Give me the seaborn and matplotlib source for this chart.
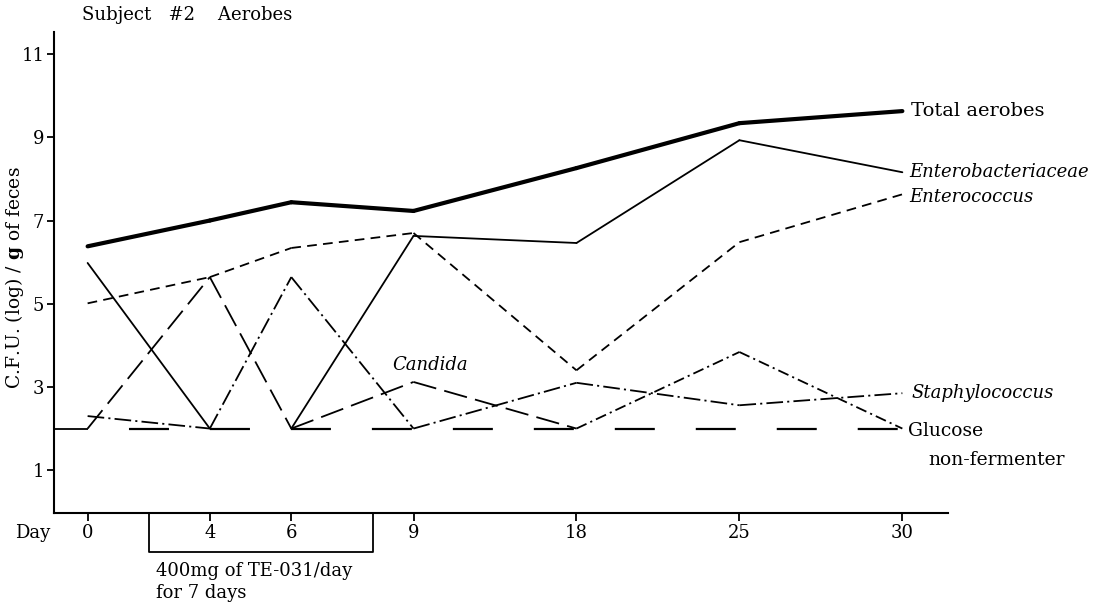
import matplotlib
matplotlib.use("Agg")
import matplotlib.pyplot as plt
import seaborn as sns
import numpy as np
import pandas as pd

# sampling days and their (non-linear) slot on the printed axis
days = [0, 4, 6, 9, 18, 25, 30]
day_slots = [0, 3, 5, 8, 12, 16, 20]

detection_limit = 2.0
treatment_days = (2, 8)

total_aerobes = [6.38, 7.0, 7.44, 7.23, 8.26, 9.34, 9.63]
enterobacteriaceae = [5.98, 2.0, 2.0, 6.63, 6.46, 8.93, 8.16]
enterococcus = [5.01, 5.64, 6.34, 6.70, 3.40, 6.48, 7.63]
candida = [2.0, 5.64, 2.0, 3.12, 2.0, 2.0, 2.0]
staphylococcus = [2.30, 2.0, 5.64, 2.0, 3.10, 2.56, 2.85]
glucose_nf = [2.0, 2.0, 2.0, 2.0, 2.0, 3.84, 2.0]

series = {
    "Total aerobes": total_aerobes,
    "Enterobacteriaceae": enterobacteriaceae,
    "Enterococcus": enterococcus,
    "Candida": candida,
    "Staphylococcus": staphylococcus,
    "Glucose non-fermenter": glucose_nf,
}

sns.set_style("ticks")
plt.rcParams["font.family"] = ["DejaVu Serif"]
plt.rcParams["mathtext.fontset"] = "dejavuserif"
plt.rcParams["lines.scale_dashes"] = False
plt.rcParams["font.size"] = 13
for key in ("text.color", "axes.labelcolor", "axes.edgecolor",
            "xtick.color", "ytick.color"):
    plt.rcParams[key] = "black"

# segments where both ends sit at the detection limit are left to the dashed baseline
rows = []
for name, vals in series.items():
    for i in range(len(days) - 1):
        if vals[i] <= detection_limit and vals[i + 1] <= detection_limit:
            continue
        for j in (i, i + 1):
            rows.append({"organism": name, "seg": i, "day": days[j], "cfu": vals[j]})
df = pd.DataFrame(rows)

# piecewise-linear day axis as printed
ext_days = [-10] + days + [60]
ext_slots = [-7.5] + day_slots + [44]


def fwd(d):
    return np.interp(d, ext_days, ext_slots)


def inv(s):
    return np.interp(s, ext_slots, ext_days)


fig = plt.figure(figsize=(11, 6.08), dpi=100)
ax = fig.add_axes([0.0491, 0.1562, 0.8127, 0.7911])
ax.set_xscale("function", functions=(fwd, inv))

palette = {n: "black" for n in series}
sizes = {n: 1.3 for n in series}
sizes["Total aerobes"] = 3.0
dashes = {
    "Total aerobes": "",
    "Enterobacteriaceae": "",
    "Enterococcus": (7, 4.5),
    "Candida": (17, 6),
    "Staphylococcus": (12, 3, 1.5, 3),
    "Glucose non-fermenter": (8, 3, 1.5, 3),
}

sns.lineplot(data=df, x="day", y="cfu", hue="organism", size="organism",
             style="organism", units="seg", estimator=None, palette=palette,
             sizes=sizes, dashes=dashes, legend=False, ax=ax)

ax.set_xlim(-1.1, 31.4)
ax.set_ylim(-0.03, 11.53)

# detection-limit baseline
ax.hlines(detection_limit, days[0], days[-1], colors="black", linewidth=1.6,
          linestyles=[(28.8, (28.8, 29.5))])
ax.hlines(detection_limit, ax.get_xlim()[0], days[0], colors="black", linewidth=1.3)

ax.set_xticks(days)
ax.set_xticklabels([str(d) for d in days])
ax.set_yticks([1, 3, 5, 7, 9, 11])
ax.tick_params(axis="x", direction="out", length=6, width=1.3, pad=2, labelsize=13)
ax.tick_params(axis="y", direction="out", length=5, width=1.3, pad=2, labelsize=13)
ax.minorticks_off()
sns.despine(ax=ax)
for s in ("left", "bottom"):
    ax.spines[s].set_linewidth(1.5)
ax.set_xlabel("")
ax.set_ylabel(r"C.F.U. (log) / $\mathbf{g}$ of feces", fontsize=13.5, va="center")
ax.yaxis.set_label_coords(-0.0447, 0.489)

ax.text(-0.0436, -0.0416, "Day", transform=ax.transAxes, ha="left", va="center",
        fontsize=13)
ax.text(0.031, 1.035, "Subject   #2    Aerobes", transform=ax.transAxes,
        ha="left", va="center", fontsize=13)

# end labels
def label(name, text, dx, dy, style="normal", size=13):
    vals = series[name]
    ax.annotate(text, xy=(days[-1], vals[-1]), xytext=(dx, dy),
                textcoords="offset points", ha="left", va="center",
                fontsize=size, style=style, annotation_clip=False)


label("Total aerobes", "Total aerobes", 6.5, 0, size=14)
label("Enterobacteriaceae", "Enterobacteriaceae", 5, 0, "italic")
label("Enterococcus", "Enterococcus", 5, -2, "italic")
label("Staphylococcus", "Staphylococcus", 6.5, 0, "italic")
label("Glucose non-fermenter", "Glucose", 4, -2, size=13.5)
label("Glucose non-fermenter", "non-fermenter", 18.7, -22.3, size=13.5)
ax.annotate("Candida", xy=(days[3], candida[3]), xytext=(-15, 12.2),
            textcoords="offset points", ha="left", va="center", fontsize=13,
            style="italic")

# treatment bracket under the axis
tr = ax.get_xaxis_transform()
ax.plot([treatment_days[0], treatment_days[0], treatment_days[1], treatment_days[1]],
        [0, -0.081, -0.081, 0], transform=tr, color="black", linewidth=1.3,
        clip_on=False)
ax.annotate("400mg of TE-031/day\nfor 7 days", xy=(treatment_days[0], -0.081),
            xycoords=tr, xytext=(5, -7), textcoords="offset points",
            ha="left", va="top", fontsize=13, linespacing=1.3)

fig.savefig("out.png", dpi=100)
